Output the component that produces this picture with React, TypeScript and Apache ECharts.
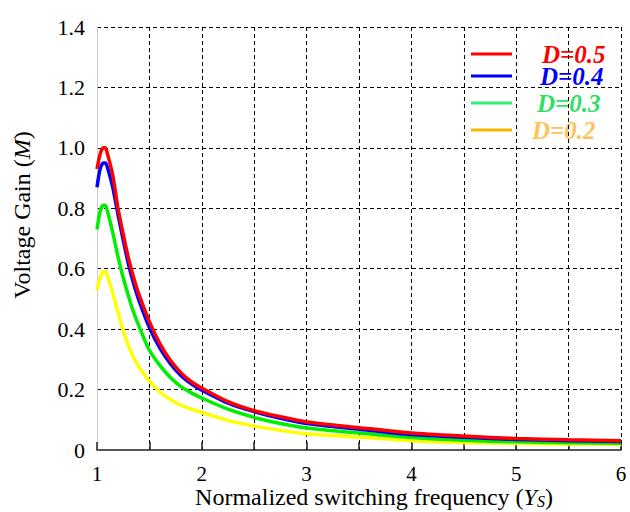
import React, { useEffect, useRef } from "react";
import * as echarts from "echarts";

const xs = [1.0, 1.03, 1.06, 1.08, 1.1, 1.15, 1.2, 1.25, 1.3, 1.35, 1.4, 1.5, 1.6, 1.7, 1.8, 1.9, 2.0, 2.25, 2.5, 2.75, 3.0, 3.5, 4.0, 4.5, 5.0, 5.5, 6.0];
const d05 = [0.93, 0.98, 1.0, 1.0, 0.98, 0.91, 0.8, 0.715, 0.635, 0.57, 0.515, 0.425, 0.352, 0.297, 0.256, 0.226, 0.205, 0.16, 0.13, 0.11, 0.093, 0.074, 0.056, 0.046, 0.038, 0.034, 0.031];
const d04 = [0.87, 0.93, 0.95, 0.95, 0.935, 0.87, 0.78, 0.695, 0.615, 0.55, 0.495, 0.405, 0.337, 0.286, 0.247, 0.219, 0.198, 0.155, 0.127, 0.105, 0.088, 0.069, 0.051, 0.042, 0.035, 0.031, 0.028];
const d03 = [0.73, 0.79, 0.81, 0.81, 0.79, 0.72, 0.64, 0.57, 0.51, 0.455, 0.41, 0.33, 0.28, 0.24, 0.21, 0.189, 0.172, 0.135, 0.108, 0.088, 0.073, 0.056, 0.041, 0.032, 0.027, 0.024, 0.022];
const d02 = [0.53, 0.57, 0.59, 0.59, 0.575, 0.52, 0.455, 0.395, 0.345, 0.305, 0.275, 0.228, 0.192, 0.167, 0.148, 0.135, 0.124, 0.098, 0.079, 0.065, 0.054, 0.043, 0.031, 0.025, 0.022, 0.02, 0.019];

const seriesNames = ["D=0.5", "D=0.4", "D=0.3", "D=0.2"];
const seriesValues = [d05, d04, d03, d02];
const lineColors = ["#ff0000", "#0000ff", "#00ee00", "#ffff00"];
const legendLineColors = ["#ff0000", "#0000ff", "#33ee77", "#ffb300"];
const legendTextColors = ["#ff0000", "#0000ff", "#33dd66", "#ffc35a"];

const FONT = "'Liberation Serif', 'Times New Roman', serif";

export default function App() {
  const ref = useRef<HTMLDivElement>(null);
  useEffect(() => {
    if (!ref.current) return;
    const chart = echarts.init(ref.current, null, { renderer: "svg" });
    const legendY = [54, 76, 103, 130];
    const legendTextX = [542, 540, 537, 532];
    const graphics: any[] = [];
    seriesNames.forEach((n, i) => {
      graphics.push({
        type: "line",
        shape: { x1: 471, y1: legendY[i], x2: 512, y2: legendY[i] },
        style: { stroke: legendLineColors[i], lineWidth: 3 },
      });
      graphics.push({
        type: "text",
        x: legendTextX[i],
        y: legendY[i],
        style: {
          text: n,
          fill: legendTextColors[i],
          font: `italic bold 25px ${FONT}`,
          lineHeight: 18,
          textAlign: "left",
          textVerticalAlign: "middle",
        },
      });
    });
    graphics.push({
      type: "text",
      x: 22,
      y: 215,
      rotation: Math.PI / 2,
      style: {
        text: "Voltage Gain ({i|M})",
        fill: "#000",
        font: `24px ${FONT}`,
        textAlign: "center",
        textVerticalAlign: "middle",
        rich: {
          i: { fontStyle: "italic", fontSize: 24, fontFamily: FONT, fill: "#000" },
        },
      },
    });
    graphics.push({
      type: "text",
      x: 374,
      y: 497,
      style: {
        text: "Normalized switching frequency ({i|Y}{s|S})",
        fill: "#000",
        font: `24px ${FONT}`,
        lineHeight: 24,
        textAlign: "center",
        textVerticalAlign: "middle",
        rich: {
          i: { fontStyle: "italic", fontSize: 24, lineHeight: 24, fontFamily: FONT, fill: "#000" },
          s: { fontStyle: "italic", fontSize: 16, lineHeight: 24, fontFamily: FONT, fill: "#000", verticalAlign: "bottom" },
        },
      },
    });

    chart.setOption({
      animation: false,
      backgroundColor: "#fff",
      grid: { left: 97, right: 9, top: 27, bottom: 62, containLabel: false, outerBoundsMode: "none" },
      xAxis: {
        type: "value",
        min: 1,
        max: 6,
        interval: 0.5,
        axisLine: { show: true, onZero: false, lineStyle: { color: "#222", width: 1.5 } },
        axisTick: { show: true, inside: true, length: 8, lineStyle: { color: "#222", width: 1.5 } },
        axisLabel: {
          fontFamily: FONT,
          fontSize: 21,
          lineHeight: 21,
          color: "#000",
          margin: 13,
          formatter: (v: number) => (Number.isInteger(v) ? String(v) : ""),
        },
        splitLine: {
          show: true,
          showMinLine: false,
          lineStyle: { color: "#000", width: 1, type: [4, 3] },
        },
      },
      yAxis: {
        type: "value",
        min: 0,
        max: 1.4,
        interval: 0.2,
        axisLine: { show: true, lineStyle: { color: "#cccccc", width: 1 } },
        axisTick: { show: false },
        axisLabel: {
          fontFamily: FONT,
          fontSize: 22,
          color: "#000",
          margin: 12,
          padding: [0, 0, 8, 0],
          formatter: (v: number) => (v === 0 ? "0" : v.toFixed(1)),
        },
        splitLine: {
          show: true,
          showMinLine: false,
          lineStyle: { color: "#000", width: 1, type: [4, 3] },
        },
      },
      graphic: graphics,
      series: seriesNames.map((n, i) => ({
        name: n,
        type: "line",
        smooth: 0.25,
        showSymbol: false,
        z: 10 - i,
        lineStyle: { color: lineColors[i], width: 3.5 },
        data: xs.map((x, k) => [x, seriesValues[i][k]]),
      })),
    });
    return () => chart.dispose();
  }, []);
  return (
    <div
      ref={ref}
      style={{ position: "absolute", left: 0, top: 0, width: 630, height: 512 }}
    />
  );
}
